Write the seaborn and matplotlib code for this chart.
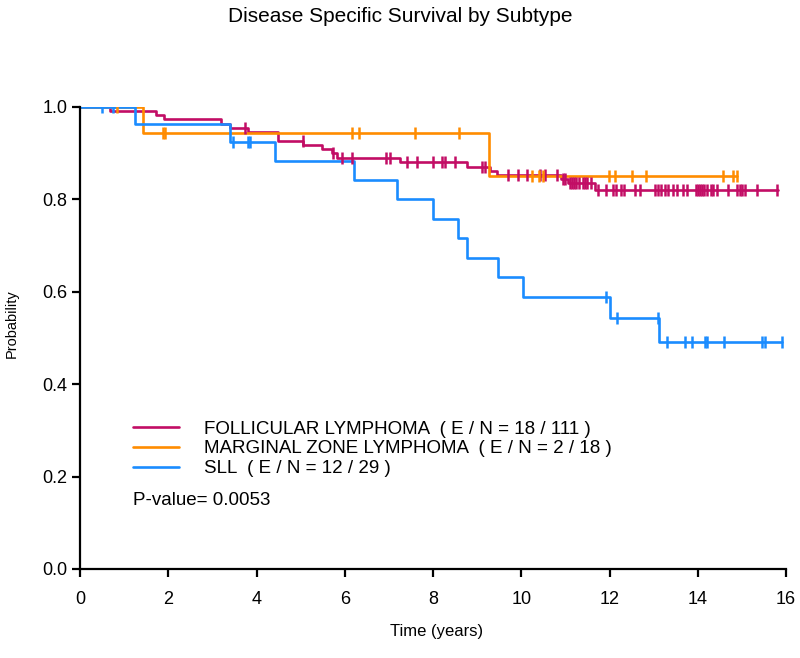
import numpy as np
import pandas as pd
import matplotlib
matplotlib.use('Agg')
import matplotlib.pyplot as plt
import seaborn as sns
from matplotlib.lines import Line2D

sns.set_theme(style='ticks')
plt.rcParams['font.family'] = ['Liberation Sans', 'DejaVu Sans']
plt.rcParams['text.color'] = 'black'
plt.rcParams['axes.labelcolor'] = 'black'

# Kaplan-Meier step data
fl_times = [0, 0.68, 1.72, 1.9, 3.2, 3.4, 3.8, 4.49, 5.06, 5.49, 5.71, 5.83, 7.26,
            8.78, 9.3, 9.45, 10.9, 11.05, 11.68]
fl_surv = [1.0, 0.991, 0.982, 0.973, 0.964, 0.955, 0.945, 0.927, 0.918, 0.909, 0.900,
           0.890, 0.881, 0.870, 0.862, 0.853, 0.844, 0.835, 0.821]
fl_end = 15.83
fl_cens = [3.75, 5.05, 5.74, 5.93, 6.17, 6.94, 7.03, 7.42, 7.63, 8.0, 8.2, 8.28, 8.5,
           9.1, 9.18, 9.7, 9.93, 10.13, 10.43, 10.54, 10.82, 10.95, 11.0, 11.1, 11.15,
           11.2, 11.25, 11.3, 11.4, 11.45, 11.5, 11.57, 11.75, 11.93, 12.08, 12.15,
           12.25, 12.32, 12.58, 12.7, 13.04, 13.1, 13.17, 13.25, 13.33, 13.45, 13.53,
           13.67, 13.76, 13.95, 14.0, 14.05, 14.1, 14.15, 14.2, 14.29, 14.35, 14.44,
           14.69, 14.9, 14.95, 15.0, 15.08, 15.35, 15.8]

mz_times = [0, 1.43, 9.27]
mz_surv = [1.0, 0.944, 0.850]
mz_end = 14.9
mz_cens = [0.84, 1.88, 1.93, 6.17, 6.33, 7.6, 8.6, 10.25, 10.4, 10.5, 11.98, 12.13,
           12.5, 12.83, 14.58, 14.8, 14.9]

sl_times = [0, 1.25, 3.4, 4.42, 6.21, 7.18, 8.0, 8.57, 8.77, 9.48, 10.05, 12.0, 13.13]
sl_surv = [1.0, 0.963, 0.925, 0.883, 0.842, 0.800, 0.758, 0.716, 0.673, 0.632, 0.589,
           0.543, 0.491]
sl_end = 15.9
sl_cens = [0.5, 0.75, 3.47, 3.8, 3.85, 11.93, 12.18, 13.1, 13.3, 13.7, 13.88, 14.17,
           14.2, 14.6, 15.46, 15.53, 15.9]

labels = ['FOLLICULAR LYMPHOMA  ( E / N = 18 / 111 )',
          'MARGINAL ZONE LYMPHOMA  ( E / N = 2 / 18 )',
          'SLL  ( E / N = 12 / 29 )']
colors = ['#C20D65', '#FF8C00', '#1A8CFF']
p_value = 'P-value= 0.0053'

groups = [
    (fl_times, fl_surv, fl_end, fl_cens),
    (mz_times, mz_surv, mz_end, mz_cens),
    (sl_times, sl_surv, sl_end, sl_cens),
]

fig = plt.figure(figsize=(8, 6.58), dpi=100)
ax = fig.add_axes([0.1, 0.1353, 0.8825, 0.7021])

for (times, surv, end, cens), color in zip(groups, colors):
    df = pd.DataFrame({'time': times + [end], 'surv': surv + [surv[-1]]})
    sns.lineplot(data=df, x='time', y='surv', ax=ax, color=color, lw=1.9,
                 drawstyle='steps-post', estimator=None, sort=False)
    idx = np.searchsorted(np.array(times), np.array(cens), side='right') - 1
    cdf = pd.DataFrame({'time': cens, 'surv': np.array(surv)[idx]})
    sns.scatterplot(data=cdf, x='time', y='surv', ax=ax, color=color,
                    marker='|', s=75, linewidth=1.8, zorder=3)

ax.set_xlim(0, 16)
ax.set_ylim(0, 1.0)
ax.set_xticks(np.arange(0, 17, 2))
ax.set_yticks(np.arange(0, 1.01, 0.2))
ax.set_yticklabels([f'{v:.1f}' for v in np.arange(0, 1.01, 0.2)])
ax.tick_params(axis='both', labelsize=13, length=6, width=1.6, direction='out',
               colors='black')
ax.tick_params(axis='x', pad=10)
ax.tick_params(axis='y', pad=3)
for s in ['left', 'bottom']:
    ax.spines[s].set_linewidth(1.6)
    ax.spines[s].set_color('black')
for s in ['top', 'right']:
    ax.spines[s].set_visible(False)

ax.set_xlabel('Time (years)', fontsize=12)
ax.set_ylabel('Probability', fontsize=10.5)
ax.xaxis.set_label_coords(0.505, -0.12)
ax.yaxis.set_label_coords(-0.087, 0.532)
fig.suptitle('Disease Specific Survival by Subtype', fontsize=15, y=0.99)

handles = [Line2D([0], [0], color=c, lw=1.9) for c in colors]
ax.legend(handles, labels, loc='upper left', bbox_to_anchor=(0.057, 0.35),
          frameon=False, fontsize=13.5, handlelength=2.45, handletextpad=1.3,
          labelspacing=0.15, borderpad=0.2)
ax.text(0.075, 0.149, p_value, transform=ax.transAxes, fontsize=13.5, va='center')

fig.savefig('out.png', dpi=100)
